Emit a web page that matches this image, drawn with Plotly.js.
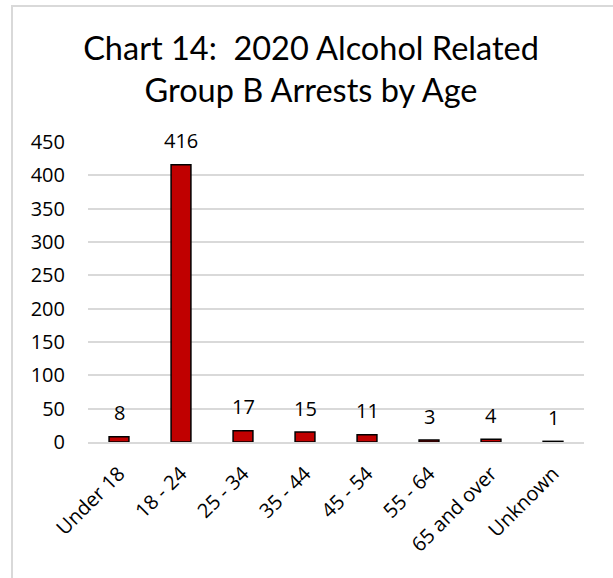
<!DOCTYPE html>
<html>
<head>
<meta charset="utf-8">
<script src="https://cdn.plot.ly/plotly-3.0.1.min.js"></script>
<style>
  html, body { margin: 0; padding: 0; background: #fff; }
  #wrap { position: relative; width: 613px; height: 578px; overflow: hidden; }
  #chart { position: absolute; left: 0; top: 0; width: 613px; height: 578px; }
  #frame { position: absolute; left: 11px; top: 5px; width: 700px; height: 700px;
           border-left: 2px solid #d9d9d9; border-top: 2px solid #d9d9d9; pointer-events: none; }
</style>
</head>
<body>
<div id="wrap">
  <div id="chart"></div>
  <div id="frame"></div>
</div>
<script>
const categories = ["Under 18", "18 - 24", "25 - 34", "35 - 44", "45 - 54", "55 - 64", "65 and over", "Unknown"];
const arrests = [8, 416, 17, 15, 11, 3, 4, 1];
const yTicks = [0, 50, 100, 150, 200, 250, 300, 350, 400, 450];

const labelFont = { family: "Open Sans, sans-serif", size: 20, color: "#000" };

const trace = {
  type: "bar",
  x: categories,
  y: arrests,
  marker: { color: "#C00000", line: { color: "#000", width: 1.5 } },
  hoverinfo: "skip"
};

const annotations = categories.map((c, i) => ({
  x: c, y: arrests[i], xref: "x", yref: "y",
  text: String(arrests[i]), showarrow: false,
  yanchor: "middle", yshift: 24,
  font: labelFont
}));

const layout = {
  width: 613, height: 578,
  margin: { l: 88, r: 29, t: 142, b: 136 },
  paper_bgcolor: "#fff", plot_bgcolor: "#fff",
  title: {
    text: "Chart 14:\u00a0 2020 Alcohol Related<br>Group B Arrests by Age",
    font: { family: "Lato, sans-serif", size: 32.5, color: "#000" },
    x: 311 / 613, xanchor: "center", xref: "container",
    y: 1 - 60 / 578, yanchor: "top", yref: "container"
  },
  bargap: 0.68,
  showlegend: false,
  xaxis: {
    type: "category",
    tickangle: -45,
    tickfont: labelFont,
    showgrid: false, zeroline: false,
    showline: true, linecolor: "#d9d9d9", linewidth: 2,
    ticks: "", ticklen: 0,
    ticklabelstandoff: 10
  },
  yaxis: {
    range: [0, 450],
    tickvals: yTicks,
    ticktext: yTicks.map(String),
    tickfont: labelFont,
    showgrid: true, gridcolor: "#d9d9d9", gridwidth: 2,
    zeroline: false, showline: false, ticks: "",
    ticklabelstandoff: 22
  },
  annotations: annotations
};

Plotly.newPlot("chart", [trace], layout, { displayModeBar: false, staticPlot: true });
</script>
</body>
</html>
